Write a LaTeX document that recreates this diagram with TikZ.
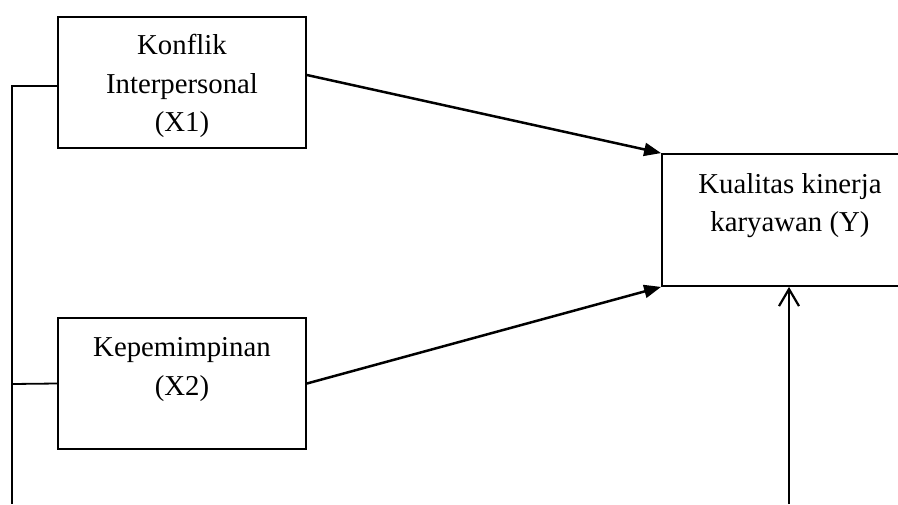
\documentclass[tikz,border=0pt]{standalone}
\usepackage{fontspec}
\setmainfont{Liberation Serif}
\usetikzlibrary{arrows.meta}
\begin{document}
\begin{tikzpicture}[x=1pt,y=-1pt,
  box/.style={draw,line width=1.8pt,minimum width=#1,inner sep=0pt},
  txt/.style={align=center,anchor=north,inner sep=0pt,font=\fontsize{28.8}{38.5}\selectfont},
  solidarrow/.style={line width=2.5pt,-{Triangle[length=17pt,width=13pt]}},
  openarrow/.style={line width=2.2pt,-{Straight Barb[length=17pt,width=20pt]}},
  plain/.style={line width=1.8pt}]
\useasboundingbox (0,0) rectangle (898,504);
\clip (0,0) rectangle (898,504);
% boxes
\node[box=248pt,minimum height=131pt] (x1) at (182,82.5) {};
\node[box=248pt,minimum height=131pt] (x2) at (182,383.5) {};
\node[box=256pt,minimum height=132pt] (y) at (790,220) {};
% texts
\node[txt] (x1t) at (182,27.7) {\strut Konflik\\Interpersonal\\(X1)};
\node[txt] (x2t) at (182,329.7) {\strut Kepemimpinan\\(X2)};
\node[txt] (yt) at (790,166) {\strut Kualitas kinerja\\karyawan (Y)};
% connector points
\coordinate (x1out) at ([yshift=7.5pt]x1.east);
\coordinate (lefttop) at (12,86);
\coordinate (leftmid) at (12,384);
\coordinate (leftbot) at (12,504);
\coordinate (upbot) at (789,504);
\coordinate (uptop) at (789,286);
% connectors
\draw[solidarrow] (x1out) -- (y.north west);
\draw[solidarrow] (x2.east) -- (y.south west);
\draw[plain] (x1.west |- lefttop) -- (lefttop) -- (leftbot);
\draw[plain] (x2.west) -- (leftmid);
\draw[openarrow] (upbot) -- (y.south -| uptop);
\end{tikzpicture}
\end{document}
